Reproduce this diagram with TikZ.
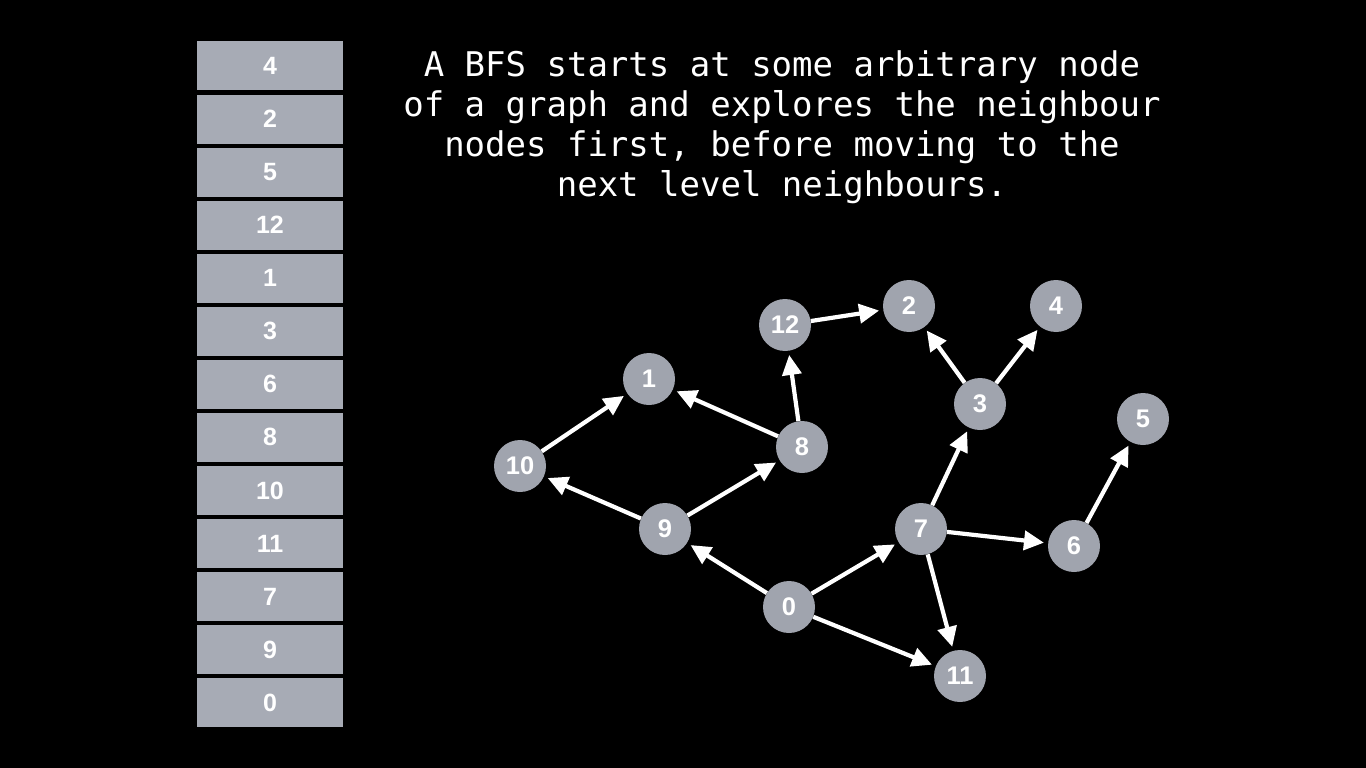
\documentclass[tikz,border=0pt]{standalone}
\usepackage{fontspec}
\setmainfont{Liberation Sans}
\newfontfamily\captionfont{DejaVu Sans Mono}
\usepackage{xcolor}
\usepackage{tikz}
\usetikzlibrary{arrows.meta}
\definecolor{nodegray}{HTML}{A0A4AE}
\definecolor{queuegray}{HTML}{A7ABB5}

\begin{document}
\begin{tikzpicture}[x=1pt, y=-1pt,
    vertex/.style={circle, fill=nodegray, minimum size=52pt, inner sep=0pt,
        text=white, font=\fontsize{25.5}{25.5}\selectfont\bfseries},
    slot/.style={rectangle, fill=queuegray, minimum width=146pt, minimum height=49pt,
        inner sep=0pt, text=white, font=\fontsize{25}{25}\selectfont\bfseries},
    edge/.style={white, line width=4.2pt, shorten >=4pt,
        -{Triangle[length=20pt, width=19pt]}}]
    % Background
    \fill[black] (0,0) rectangle (1366,768);
    \useasboundingbox (0,0) rectangle (1366,768);

    % Queue
    \foreach \i/\v in {0/4, 1/2, 2/5, 3/12, 4/1, 5/3, 6/6, 7/8, 8/10, 9/11, 10/7, 11/9, 12/0} {
        \node[slot] (q\i) at (270, 66+53.05*\i) {\v};
    }

    % Caption
    \node[text=white, align=center, font=\captionfont\fontsize{34}{40}\selectfont] (caption) at (782,127)
        {A BFS starts at some arbitrary node\\of a graph and explores the neighbour\\nodes first, before moving to the\\next level neighbours.};

    % Graph nodes
    \node[vertex] (n12) at (785,325) {12};
    \node[vertex] (n2) at (909,306) {2};
    \node[vertex] (n4) at (1056,306) {4};
    \node[vertex] (n1) at (649,379) {1};
    \node[vertex] (n3) at (980,404) {3};
    \node[vertex] (n5) at (1143,419) {5};
    \node[vertex] (n10) at (520,466) {10};
    \node[vertex] (n8) at (802,447) {8};
    \node[vertex] (n9) at (665,529) {9};
    \node[vertex] (n7) at (921,529) {7};
    \node[vertex] (n6) at (1074,546) {6};
    \node[vertex] (n0) at (789,607) {0};
    \node[vertex] (n11) at (960,676) {11};

    % Edges
    \foreach \a/\b in {10/1, 8/1, 9/10, 9/8, 8/12, 12/2, 3/2, 3/4, 7/3, 6/5, 7/6, 0/9, 0/7, 0/11, 7/11} {
        \draw[edge] (n\a) -- (n\b);
    }
\end{tikzpicture}
\end{document}
